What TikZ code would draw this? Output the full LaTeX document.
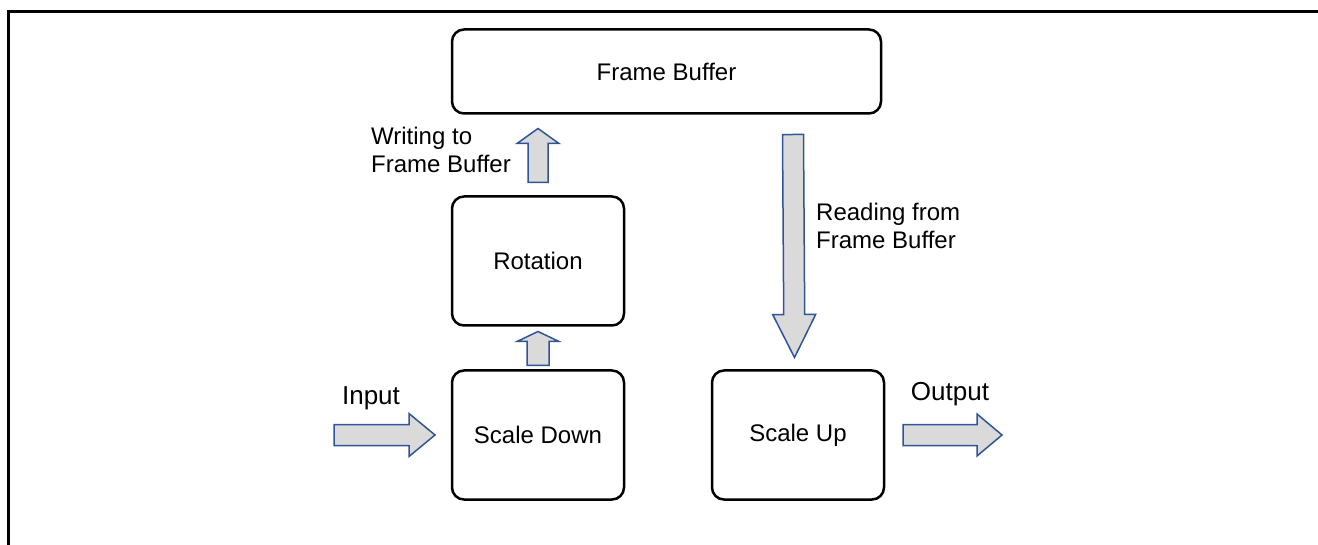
\documentclass[tikz,border=0pt]{standalone}
\usepackage{fontspec}
\setmainfont{Liberation Sans}
\usetikzlibrary{positioning, calc}

\definecolor{arrblue}{RGB}{47,85,151}
\definecolor{arrgray}{RGB}{218,218,218}

% block arrow: tail, tip, shaft half width, head half width, head length
\newcommand{\fatarrow}[5]{%
  \coordinate (hb) at ($(#2)!#5!(#1)$);
  \draw[fatarr] ($(#1)!#3!90:(#2)$) -- ($(hb)!#3!90:(#2)$) -- ($(hb)!#4!90:(#2)$) -- (#2)
    -- ($(hb)!#4!-90:(#2)$) -- ($(hb)!#3!-90:(#2)$) -- ($(#1)!#3!-90:(#2)$) -- cycle;}

\begin{document}
\begin{tikzpicture}[x=1pt, y=-1pt,
    block/.style={draw, rectangle, rounded corners=12pt, line width=2.5pt, outer sep=0pt,
      minimum width=172pt, minimum height=129pt, font=\fontsize{24}{29}\selectfont},
    lbl/.style={inner sep=0pt, font=\fontsize{24}{28}\selectfont},
    iolbl/.style={inner sep=0pt, font=\fontsize{26}{31}\selectfont},
    fatarr/.style={draw=arrblue, fill=arrgray, line width=1.5pt, line join=miter}]
        \useasboundingbox (0,0) rectangle (1318,545);
        % frame
        \draw[line width=3pt] (1318,12) -- (8,12) -- (8,545);

        % Scaling and rotation pipeline
        \node[block] (sdown) at (538,435) {Scale Down};
        \node[block, above=45pt of sdown] (rot) {Rotation};
        \node[block, right=88pt of sdown] (sup) {Scale Up};
        \node[block, minimum width=429pt, minimum height=84pt, above right=83pt and 0pt of rot.north west] (fb) {Frame Buffer};

        \node[iolbl, anchor=base] (inlbl) at (371,405) {Input};
        \node[iolbl, anchor=base] (outlbl) at (950,400) {Output};
        \node[lbl, anchor=west, align=left] (wrlbl) at (371,150) {Writing to\\Frame Buffer};
        \node[lbl, anchor=west, align=left] (rdlbl) at (816,225.5) {Reading from\\Frame Buffer};

        \coordinate (intail) at (334,435);
        \coordinate (outtip) at (1002,435);
        \fatarrow{intail}{$(sdown.west)+(-17,0)$}{10.5pt}{21.5pt}{26pt}
        \fatarrow{$(sup.east)+(19,0)$}{outtip}{10.5pt}{21pt}{25pt}
        \fatarrow{$(sdown.north)+(0,-5)$}{$(rot.south)+(0,6)$}{11pt}{21pt}{10pt}
        \fatarrow{$(rot.north)+(0,-14)$}{$(fb.south -| rot.north)+(0,15)$}{10pt}{21pt}{15pt}
        \fatarrow{$(fb.south)+(126.5,21)$}{$(sup.north)+(-3.5,-13)$}{10.5pt}{21.5pt}{43pt}
    \end{tikzpicture}
\end{document}
